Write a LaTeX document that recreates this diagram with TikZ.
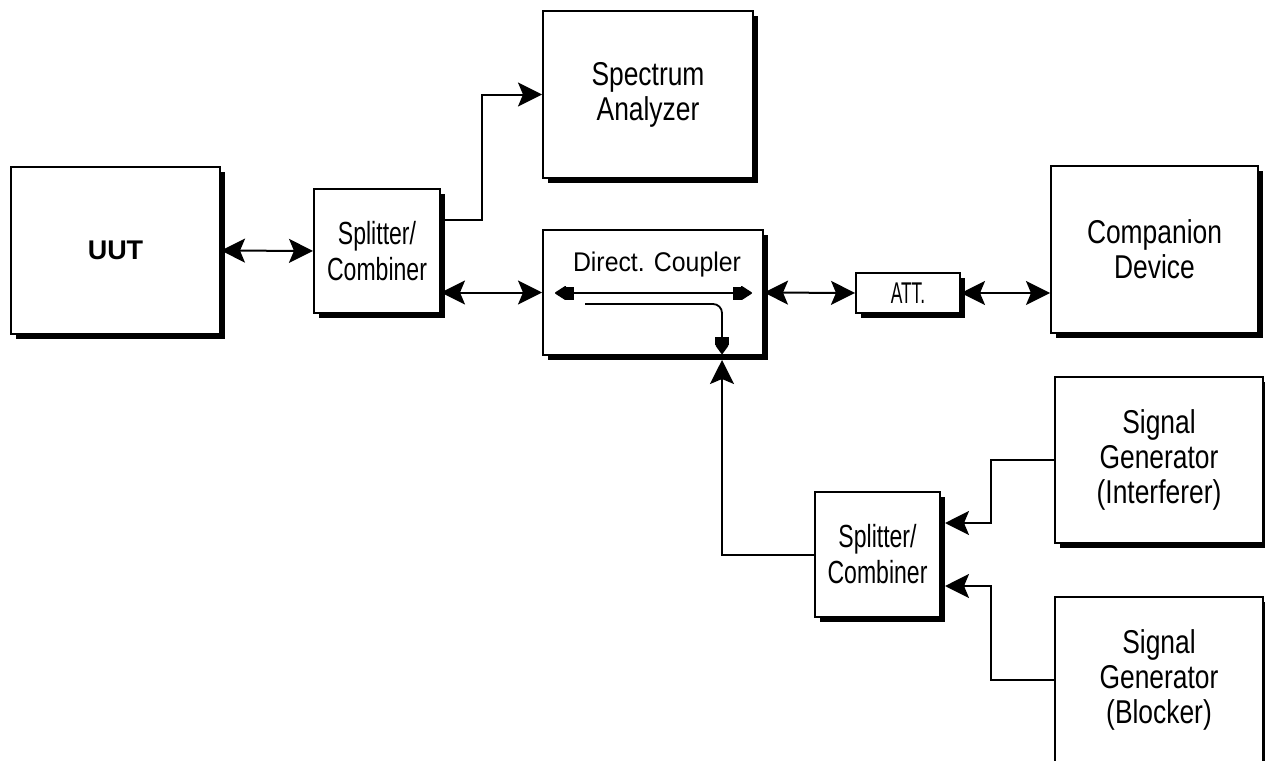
\documentclass[tikz,border=0pt]{standalone}
\usepackage{fontspec}
\setmainfont{Liberation Sans}
\newfontfamily\fA{Liberation Sans}[FakeStretch=0.8]
\newfontfamily\fS{Liberation Sans}[FakeStretch=0.72]
\newfontfamily\fT{Liberation Sans}[FakeStretch=0.58]
\newfontfamily\fD{Liberation Sans}[FakeStretch=0.92]
\usetikzlibrary{arrows.meta,shadows,calc}
\tikzset{
  box/.style={draw=black, line width=2pt, fill=white, rectangle, inner sep=0pt,
    align=center,
    drop shadow={shadow xshift=5pt, shadow yshift=-5pt, fill=black, opacity=1}},
  bigfont/.style={font=\fA\fontsize{33}{35}\selectfont},
  splitfont/.style={font=\fS\fontsize{32}{36}\selectfont},
  conn/.style={line width=2pt},
  tip/.tip={Stealth[length=24pt,width=24pt,inset=5pt]},
  biarrow/.style={conn, tip-tip},
  onearrow/.style={conn, -tip},
  cpl/.style={line width=1.8pt},
}
\begin{document}
\begin{tikzpicture}[x=1pt,y=-1pt]
\useasboundingbox (0,0) rectangle (1265,760);

% boxes
\node[box, minimum width=209pt, minimum height=167pt,
      font=\bfseries\fontsize{27}{30}\selectfont] (uut) at (115.5,250.5) {UUT};
\node[box, splitfont, minimum width=126pt, minimum height=124pt] (sp1) at (377,251) {Splitter/\\Combiner};
\node[box, bigfont, minimum width=210pt, minimum height=167pt] (sa) at (648,94.5) {Spectrum\\Analyzer};
\node[box, minimum width=220pt, minimum height=125pt] (cp) at (653,292.5) {};
\node[box, minimum width=104pt, minimum height=40pt,
      font=\fT\fontsize{30}{32}\selectfont] (att) at (908,293) {ATT.};
\node[box, bigfont, minimum width=207pt, minimum height=167pt] (comp) at (1154.5,249.5) {Companion\\Device};
\node[box, splitfont, minimum width=125pt, minimum height=125pt] (sp2) at (877.5,554.5) {Splitter/\\Combiner};
\node[box, bigfont, minimum width=208pt, minimum height=166pt] (intf) at (1159,460) {Signal\\Generator\\(Interferer)};
\node[box, bigfont, minimum width=208pt, minimum height=166pt] (blk) at (1159,680) {Signal\\Generator\\(Blocker)};

% coupler interior
\node[font=\fD\fontsize{27}{30}\selectfont, inner sep=0pt] (dclabel) at (657,265) {Direct. Coupler};
\coordinate (dcL) at (555,293);
\coordinate (dcR) at (752,293);
\coordinate (dcS) at (585,304);
\coordinate (dcE) at (722,354);
\draw[cpl, {Triangle[length=12pt,width=15pt,round]Rectangle[length=8pt,width=13pt]}-{Rectangle[length=8pt,width=13pt]Triangle[length=12pt,width=15pt,round]}] (dcL) -- (dcR);
\draw[cpl, rounded corners=9pt, -{Rectangle[length=8pt,width=14pt]Triangle[length=10pt,width=14pt,round]}] (dcS) -| (dcE);

% connectors
\coordinate (cpin) at (722,360);
\coordinate (sp2a) at (945,523);
\coordinate (sp2b) at (945,586);
\draw[biarrow] (uut.east) -- (sp1.west);
\draw[onearrow] ($(sp1.north east)!0.25!(sp1.south east)$) -- ++(41,0) |- (sa.west);
\draw[biarrow] (sp1.east |- cp.west) -- (cp.west);
\draw[biarrow] (cp.east) -- (att.west);
\draw[biarrow] (att.east) -- (att.east -| comp.west);
\draw[onearrow] (sp2.west) -| (cpin);
\draw[onearrow] (intf.west) -- ++(-63,0) |- (sp2a);
\draw[onearrow] (blk.west) -- ++(-63,0) |- (sp2b);
\end{tikzpicture}
\end{document}
